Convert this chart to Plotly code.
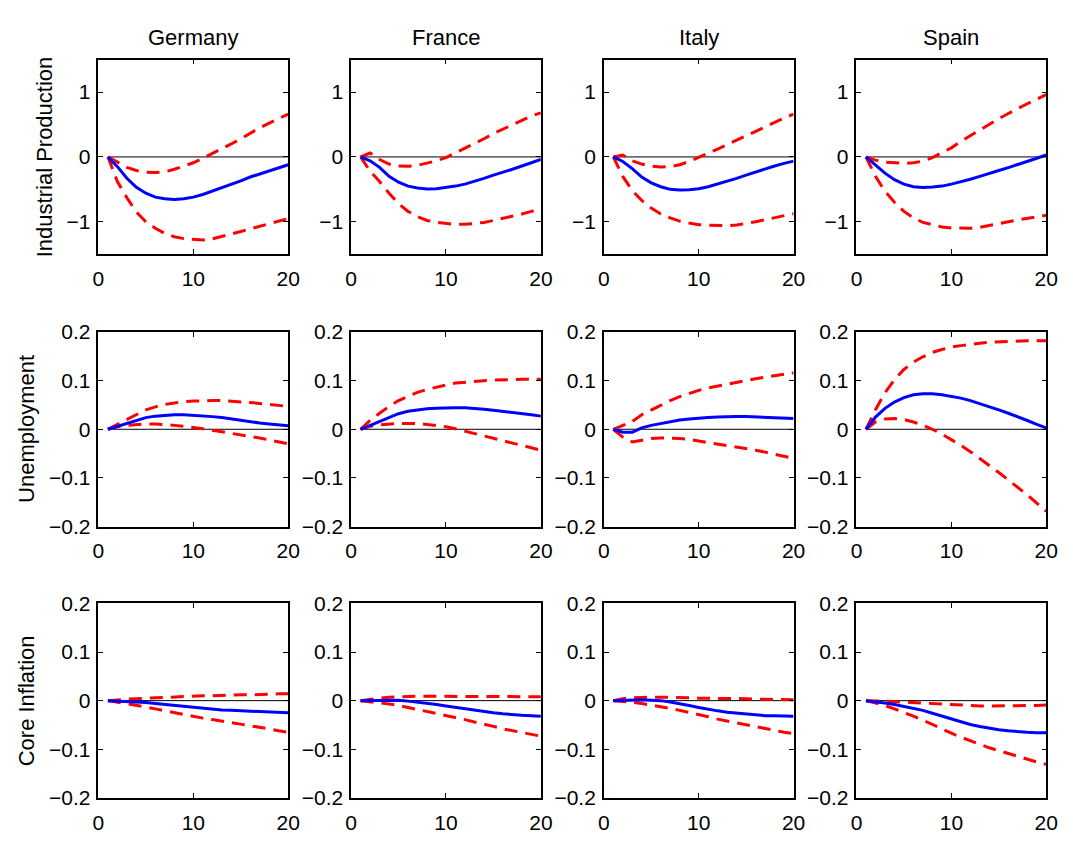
import plotly.graph_objects as go

W, H = 1073, 841

horizons = list(range(1, 21))
countries = ["Germany", "France", "Italy", "Spain"]
variables = ["Industrial Production", "Unemployment", "Core Inflation"]

# ---------------- Industrial Production ----------------
ip_germany_mid = [0, -0.15, -0.33, -0.47, -0.56, -0.62, -0.645, -0.655, -0.645, -0.62,
                  -0.58, -0.53, -0.48, -0.43, -0.37, -0.31, -0.26, -0.21, -0.165, -0.12]
ip_germany_hi = [0, -0.08, -0.16, -0.21, -0.235, -0.24, -0.23, -0.19, -0.14, -0.09,
                 -0.02, 0.05, 0.13, 0.20, 0.28, 0.37, 0.45, 0.52, 0.59, 0.66]
ip_germany_lo = [0, -0.38, -0.63, -0.85, -1.0, -1.1, -1.18, -1.23, -1.26, -1.275,
                 -1.28, -1.265, -1.23, -1.19, -1.15, -1.11, -1.07, -1.03, -0.99, -0.95]

ip_france_mid = [0, -0.06, -0.16, -0.30, -0.39, -0.45, -0.48, -0.495, -0.49, -0.475,
                 -0.45, -0.42, -0.38, -0.33, -0.28, -0.24, -0.19, -0.14, -0.09, -0.04]
ip_france_hi = [0, 0.06, -0.04, -0.11, -0.14, -0.145, -0.13, -0.10, -0.06, -0.01,
                0.06, 0.13, 0.21, 0.28, 0.36, 0.43, 0.50, 0.57, 0.63, 0.68]
ip_france_lo = [0, -0.22, -0.38, -0.56, -0.72, -0.84, -0.92, -0.98, -1.01, -1.03,
                -1.04, -1.04, -1.03, -1.01, -0.98, -0.95, -0.92, -0.88, -0.84, -0.80]

ip_italy_mid = [0, -0.07, -0.18, -0.31, -0.40, -0.46, -0.50, -0.51, -0.505, -0.49,
                -0.46, -0.42, -0.38, -0.33, -0.28, -0.23, -0.18, -0.14, -0.10, -0.065]
ip_italy_hi = [0, 0.03, -0.06, -0.11, -0.14, -0.155, -0.15, -0.12, -0.07, 0.0,
               0.06, 0.12, 0.19, 0.26, 0.33, 0.40, 0.47, 0.54, 0.60, 0.66]
ip_italy_lo = [0, -0.30, -0.52, -0.67, -0.79, -0.88, -0.94, -0.99, -1.02, -1.045,
               -1.055, -1.06, -1.06, -1.05, -1.03, -1.00, -0.97, -0.94, -0.91, -0.875]

ip_spain_mid = [0, -0.12, -0.25, -0.35, -0.42, -0.46, -0.47, -0.465, -0.45, -0.42,
                -0.385, -0.345, -0.30, -0.26, -0.21, -0.165, -0.12, -0.07, -0.02, 0.03]
ip_spain_hi = [0, -0.05, -0.08, -0.095, -0.10, -0.09, -0.065, -0.01, 0.06, 0.14,
               0.24, 0.33, 0.42, 0.51, 0.59, 0.67, 0.75, 0.82, 0.89, 0.96]
ip_spain_lo = [0, -0.30, -0.53, -0.70, -0.84, -0.94, -1.01, -1.05, -1.08, -1.095,
               -1.10, -1.10, -1.085, -1.06, -1.03, -1.00, -0.97, -0.95, -0.92, -0.90]

# ---------------- Unemployment ----------------
un_germany_mid = [0, 0.006, 0.013, 0.019, 0.024, 0.027, 0.029, 0.030, 0.030, 0.029,
                  0.028, 0.026, 0.024, 0.021, 0.019, 0.016, 0.013, 0.011, 0.009, 0.007]
un_germany_hi = [0, 0.010, 0.020, 0.030, 0.040, 0.046, 0.051, 0.054, 0.057, 0.058,
                 0.059, 0.059, 0.059, 0.058, 0.056, 0.055, 0.053, 0.051, 0.049, 0.047]
un_germany_lo = [0, 0.005, 0.008, 0.010, 0.011, 0.011, 0.010, 0.008, 0.006, 0.004,
                 0.001, -0.002, -0.005, -0.008, -0.011, -0.015, -0.018, -0.022, -0.026, -0.030]

un_france_mid = [0, 0.008, 0.016, 0.025, 0.032, 0.037, 0.040, 0.042, 0.043, 0.044,
                 0.044, 0.044, 0.043, 0.041, 0.039, 0.037, 0.035, 0.032, 0.030, 0.027]
un_france_hi = [0, 0.018, 0.033, 0.047, 0.059, 0.068, 0.076, 0.082, 0.087, 0.091,
                0.095, 0.097, 0.099, 0.100, 0.101, 0.102, 0.102, 0.103, 0.103, 0.103]
un_france_lo = [0, 0.006, 0.009, 0.011, 0.012, 0.012, 0.012, 0.010, 0.008, 0.005,
                0.001, -0.004, -0.009, -0.014, -0.019, -0.023, -0.028, -0.033, -0.038, -0.043]

un_italy_mid = [0, -0.006, -0.006, 0.003, 0.008, 0.012, 0.016, 0.019, 0.021, 0.023,
                0.024, 0.025, 0.026, 0.026, 0.026, 0.025, 0.025, 0.024, 0.023, 0.022]
un_italy_hi = [0, 0.008, 0.016, 0.030, 0.040, 0.050, 0.059, 0.067, 0.074, 0.080,
               0.085, 0.089, 0.093, 0.097, 0.101, 0.104, 0.107, 0.110, 0.113, 0.116]
un_italy_lo = [0, -0.016, -0.026, -0.022, -0.019, -0.018, -0.018, -0.019, -0.021, -0.024,
               -0.027, -0.030, -0.033, -0.036, -0.039, -0.043, -0.047, -0.051, -0.056, -0.060]

un_spain_mid = [0, 0.025, 0.043, 0.056, 0.065, 0.071, 0.073, 0.073, 0.071, 0.068,
                0.064, 0.059, 0.053, 0.047, 0.040, 0.033, 0.026, 0.018, 0.010, 0.003]
un_spain_hi = [0, 0.040, 0.075, 0.102, 0.123, 0.138, 0.149, 0.158, 0.164, 0.169,
               0.172, 0.175, 0.177, 0.179, 0.180, 0.181, 0.182, 0.182, 0.182, 0.182]
un_spain_lo = [0, 0.015, 0.021, 0.022, 0.020, 0.015, 0.008, 0.000, -0.010, -0.021,
               -0.033, -0.046, -0.060, -0.074, -0.089, -0.104, -0.119, -0.135, -0.152, -0.169]

# ---------------- Core Inflation ----------------
ci_germany_mid = [0, -0.001, -0.002, -0.002, -0.004, -0.006, -0.008, -0.010, -0.012, -0.014,
                  -0.016, -0.017, -0.019, -0.020, -0.021, -0.022, -0.023, -0.024, -0.024, -0.025]
ci_germany_hi = [0, 0.002, 0.003, 0.004, 0.005, 0.006, 0.007, 0.008, 0.008, 0.009,
                 0.010, 0.010, 0.011, 0.011, 0.012, 0.012, 0.013, 0.013, 0.014, 0.014]
ci_germany_lo = [0, -0.003, -0.006, -0.009, -0.013, -0.017, -0.021, -0.025, -0.029, -0.032,
                 -0.036, -0.039, -0.042, -0.045, -0.048, -0.052, -0.055, -0.058, -0.062, -0.065]

ci_france_mid = [0, 0.000, 0.001, 0.001, 0.001, -0.001, -0.003, -0.005, -0.008, -0.011,
                 -0.014, -0.017, -0.020, -0.023, -0.025, -0.027, -0.029, -0.030, -0.031, -0.032]
ci_france_hi = [0, 0.003, 0.005, 0.007, 0.008, 0.009, 0.009, 0.009, 0.009, 0.009,
                0.009, 0.009, 0.009, 0.008, 0.008, 0.008, 0.008, 0.008, 0.008, 0.008]
ci_france_lo = [0, -0.002, -0.004, -0.007, -0.010, -0.014, -0.018, -0.022, -0.027, -0.031,
                -0.035, -0.039, -0.044, -0.048, -0.053, -0.058, -0.062, -0.066, -0.070, -0.073]

ci_italy_mid = [0, 0.001, 0.002, 0.002, 0.001, 0.000, -0.003, -0.006, -0.010, -0.014,
                -0.018, -0.021, -0.024, -0.026, -0.028, -0.030, -0.031, -0.031, -0.032, -0.032]
ci_italy_hi = [0, 0.004, 0.006, 0.007, 0.007, 0.007, 0.007, 0.006, 0.006, 0.005,
               0.005, 0.005, 0.004, 0.004, 0.004, 0.003, 0.003, 0.003, 0.002, 0.002]
ci_italy_lo = [0, -0.001, -0.003, -0.006, -0.009, -0.012, -0.016, -0.020, -0.024, -0.029,
               -0.033, -0.038, -0.042, -0.046, -0.050, -0.054, -0.058, -0.062, -0.065, -0.068]

ci_spain_mid = [0, -0.002, -0.005, -0.008, -0.012, -0.016, -0.020, -0.026, -0.032, -0.038,
                -0.044, -0.049, -0.053, -0.057, -0.060, -0.062, -0.064, -0.065, -0.066, -0.066]
ci_spain_hi = [0, 0.0, -0.001, -0.002, -0.003, -0.005, -0.006, -0.007, -0.008, -0.009,
               -0.010, -0.010, -0.011, -0.011, -0.011, -0.011, -0.011, -0.010, -0.010, -0.009]
ci_spain_lo = [0, -0.005, -0.010, -0.017, -0.024, -0.032, -0.040, -0.049, -0.059, -0.067,
               -0.075, -0.083, -0.090, -0.097, -0.103, -0.109, -0.115, -0.121, -0.126, -0.131]

zero_line = [0] * 20

panels = [
    [(ip_germany_mid, ip_germany_hi, ip_germany_lo), (ip_france_mid, ip_france_hi, ip_france_lo),
     (ip_italy_mid, ip_italy_hi, ip_italy_lo), (ip_spain_mid, ip_spain_hi, ip_spain_lo)],
    [(un_germany_mid, un_germany_hi, un_germany_lo), (un_france_mid, un_france_hi, un_france_lo),
     (un_italy_mid, un_italy_hi, un_italy_lo), (un_spain_mid, un_spain_hi, un_spain_lo)],
    [(ci_germany_mid, ci_germany_hi, ci_germany_lo), (ci_france_mid, ci_france_hi, ci_france_lo),
     (ci_italy_mid, ci_italy_hi, ci_italy_lo), (ci_spain_mid, ci_spain_hi, ci_spain_lo)],
]

x_ticks = [0, 10, 20]
y_ticks_ip = [-1, 0, 1]
y_ticklabels_ip = ["\u22121", "0", "1"]
y_ticks_small = [-0.2, -0.1, 0, 0.1, 0.2]
y_ticklabels_small = ["\u22120.2", "\u22120.1", "0", "0.1", "0.2"]

# ---------------- layout geometry (pixels) ----------------
col_left = [94, 351, 608, 865]
col_w = 193
row_top = [49, 329, 608]
row_h = 200

FONT = "Liberation Sans, Arial, Helvetica, sans-serif"
TICK_SIZE = 21
TITLE_SIZE = 22

fig = go.Figure()
layout = {}
for r in range(3):
    for c in range(4):
        idx = r * 4 + c + 1
        xa = "xaxis" if idx == 1 else f"xaxis{idx}"
        ya = "yaxis" if idx == 1 else f"yaxis{idx}"
        xref = "x" if idx == 1 else f"x{idx}"
        yref = "y" if idx == 1 else f"y{idx}"
        x0 = col_left[c] / W
        x1 = (col_left[c] + col_w) / W
        y1 = 1 - row_top[r] / H
        y0 = 1 - (row_top[r] + row_h) / H
        common = dict(showline=True, mirror="ticks", linecolor="black", linewidth=1.5,
                      ticks="inside", ticklen=5, tickwidth=1, tickcolor="black",
                      showgrid=False, zeroline=False,
                      tickfont=dict(family=FONT, size=TICK_SIZE, color="black"))
        layout[xa] = dict(domain=[x0, x1], anchor=yref, range=[0, 20],
                          tickvals=x_ticks, ticktext=[str(t) for t in x_ticks],
                          ticklabelstandoff=5, **common)
        if r == 0:
            layout[ya] = dict(domain=[y0, y1], anchor=xref, range=[-1.5, 1.5],
                              tickvals=y_ticks_ip, ticktext=y_ticklabels_ip,
                              ticklabelstandoff=2, **common)
        else:
            layout[ya] = dict(domain=[y0, y1], anchor=xref, range=[-0.2, 0.2],
                              tickvals=y_ticks_small, ticktext=y_ticklabels_small,
                              ticklabelstandoff=2, **common)

        mid, hi, lo = panels[r][c]
        fig.add_trace(go.Scatter(x=horizons, y=zero_line, mode="lines",
                                 line=dict(color="black", width=1),
                                 xaxis=xref, yaxis=yref, showlegend=False, hoverinfo="skip"))
        for band in (hi, lo):
            fig.add_trace(go.Scatter(x=horizons, y=band, mode="lines",
                                     line=dict(color="#ff0000", width=3, dash="13px,8px"),
                                     xaxis=xref, yaxis=yref, showlegend=False))
        fig.add_trace(go.Scatter(x=horizons, y=mid, mode="lines",
                                 line=dict(color="#0000ff", width=3),
                                 xaxis=xref, yaxis=yref, showlegend=False))

annotations = []
for c, name in enumerate(countries):
    annotations.append(dict(text=name, xref="paper", yref="paper",
                            x=(col_left[c] + col_w / 2) / W, y=1 - 26 / H,
                            xanchor="center", yanchor="middle", showarrow=False,
                            font=dict(family=FONT, size=TITLE_SIZE, color="black")))
ylabel_x = [40, 21, 21]
for r, name in enumerate(variables):
    annotations.append(dict(text=name, xref="paper", yref="paper",
                            x=ylabel_x[r] / W, y=1 - (row_top[r] + row_h / 2) / H,
                            xanchor="center", yanchor="middle", showarrow=False,
                            textangle=-90,
                            font=dict(family=FONT, size=TITLE_SIZE, color="black")))

fig.update_layout(**layout)
fig.update_layout(width=W, height=H, margin=dict(l=0, r=0, t=0, b=0),
                  paper_bgcolor="white", plot_bgcolor="white",
                  annotations=annotations, showlegend=False,
                  font=dict(family=FONT, color="black"))

fig.write_html("out.html", config={"displayModeBar": False},
               post_script="document.body.style.margin='0';document.body.style.overflow='hidden';")
